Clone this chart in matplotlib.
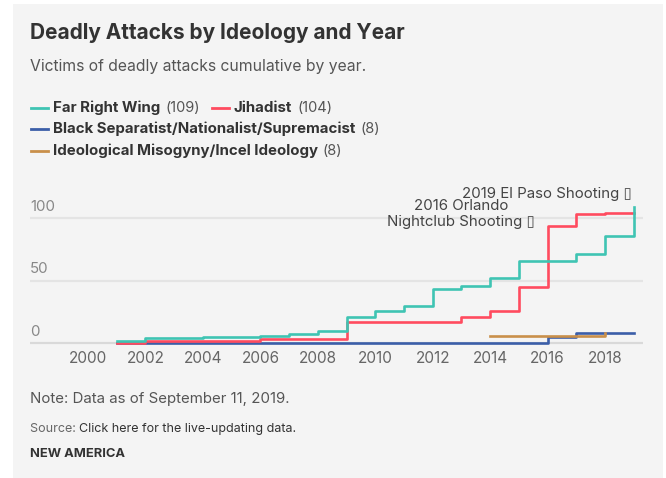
import matplotlib
matplotlib.use("Agg")
import matplotlib.pyplot as plt
from matplotlib.lines import Line2D
from matplotlib.patches import Rectangle

# --- Datos (víctimas acumuladas por año) ---
years = list(range(2001, 2020))
far_right = [2, 4, 4, 5, 5, 6, 7, 10, 21, 26, 30, 43, 46, 52, 66, 66, 71, 86, 109]
jihadist = [0, 2, 2, 2, 2, 3, 3, 3, 17, 17, 17, 17, 21, 26, 45, 94, 103, 104, 104]
black_sep = [0, 0, 0, 0, 0, 0, 0, 0, 0, 0, 0, 0, 0, 0, 0, 5, 8, 8, 8]
incel_years = [2014, 2015, 2016, 2017, 2018]
incel = [6, 6, 6, 6, 8]

series_names = ["Far Right Wing", "Jihadist",
                "Black Separatist/Nationalist/Supremacist",
                "Ideological Misogyny/Incel Ideology"]
series_totals = ["(109)", "(104)", "(8)", "(8)"]
colors = ["#3fc4b3", "#ff4b5f", "#3b5ea8", "#c98f4a"]

x_ticks = list(range(2000, 2019, 2))
y_ticks = [0, 50, 100]

W, H = 666, 478
FONT = "Inter"
plt.rcParams["font.family"] = [FONT, "DejaVu Sans"]


def fx(px):
    return px / W


def fy(py):
    return 1 - py / H


fig = plt.figure(figsize=(W / 100, H / 100), dpi=100)
fig.patch.set_facecolor("white")
fig.add_artist(Rectangle((fx(13), 0), fx(663) - fx(13), fy(4), transform=fig.transFigure,
                         facecolor="#f4f4f4", edgecolor="none", zorder=-10))

# --- Textos de cabecera ---
fig.text(fx(30), fy(33), "Deadly Attacks by Ideology and Year", fontsize=15,
         fontweight="bold", color="#333333", va="center")
fig.text(fx(30), fy(66), "Victims of deadly attacks cumulative by year.", fontsize=11.3,
         color="#555555", va="center")

# --- Leyenda manual ---
legend_rows = [
    (108, 31, 0), (108, 212, 1), (129, 31, 2), (151, 31, 3),
]
for row_y, row_x, i in legend_rows:
    fig.add_artist(Line2D([fx(row_x), fx(row_x + 17)], [fy(row_y), fy(row_y)],
                          transform=fig.transFigure, color=colors[i], lw=2))
    t = fig.text(fx(row_x + 22), fy(row_y), series_names[i], fontsize=10.8,
                 fontweight="bold", color="#333333", va="center")
    fig.canvas.draw()
    bb = t.get_window_extent()
    fig.text(bb.x1 / W + fx(5), fy(row_y), series_totals[i], fontsize=10.5,
             color="#555555", va="center")

# --- Gráfico ---
ax = fig.add_axes([fx(30), fy(350), fx(643) - fx(30), fy(195) - fy(350)])
ax.set_facecolor("none")
ax.set_xlim(1997.98, 2019.32)
ax.set_ylim(-5.6, 118.4)

for v in y_ticks:
    ax.axhline(v, color="#d9d9d9" if v == 0 else "#e4e4e4", lw=1.6, zorder=1)
    ax.text(1997.98, v + 9, str(v), fontsize=10.8, color="#888888", ha="left",
            va="center")

ax.step(years, black_sep, where="post", color=colors[2], lw=1.9, zorder=3)
ax.step(incel_years, incel, where="post", color=colors[3], lw=1.9, zorder=3)
ax.step(years, jihadist, where="post", color=colors[1], lw=1.9, zorder=4)
ax.step(years, far_right, where="post", color=colors[0], lw=1.9, zorder=5)

ax.set_xticks(x_ticks)
ax.set_xticklabels([str(x) for x in x_ticks], fontsize=11, color="#666666")
ax.tick_params(axis="x", length=0, pad=1)
ax.set_yticks([])
for s in ax.spines.values():
    s.set_visible(False)

ax.text(2018.94, 119.2, "2019 El Paso Shooting \u25af", fontsize=10.8, color="#444444",
        ha="right", va="center", clip_on=False)
ax.text(2012.99, 103.2, "2016 Orlando\nNightclub Shooting \u25af", fontsize=10.8,
        color="#444444", ha="center", va="center", multialignment="center",
        linespacing=1.15, clip_on=False)

# --- Pie ---
fig.text(fx(30), fy(399), "Note: Data as of September 11, 2019.", fontsize=10.8,
         color="#555555", va="center")
src = fig.text(fx(30), fy(429), "Source: ", fontsize=9, color="#666666", va="center")
fig.canvas.draw()
bb = src.get_window_extent()
fig.text(bb.x1 / W, fy(429), "Click here for the live-updating data.", fontsize=9,
         color="#333333", va="center")
fig.text(fx(30), fy(454), "NEW AMERICA", fontsize=9.3, fontweight="bold", color="#333333",
         va="center")

fig.savefig("out.png", dpi=100)
